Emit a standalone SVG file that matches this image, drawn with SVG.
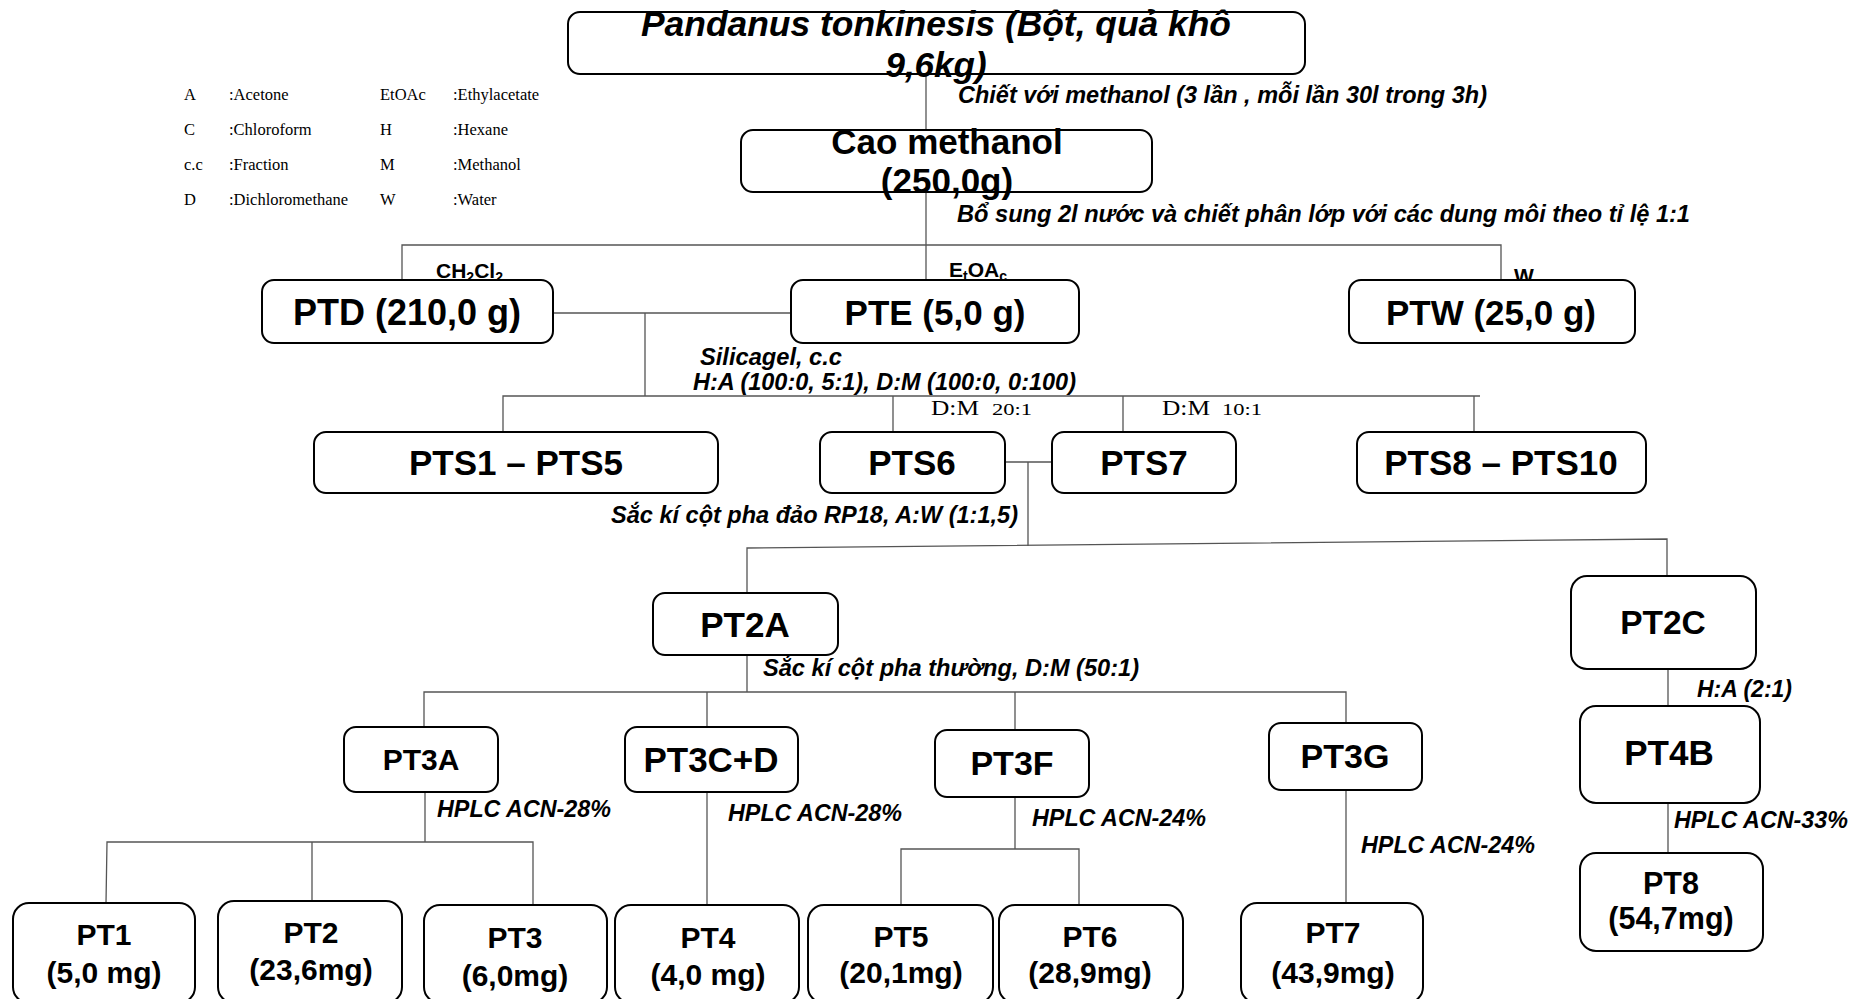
<svg xmlns="http://www.w3.org/2000/svg" width="1860" height="999" viewBox="0 0 1860 999">
<style>
.box{fill:#fff;stroke:#000;stroke-width:2}
.n{font-family:"Liberation Sans",Arial,sans-serif;font-weight:bold;fill:#000;text-anchor:middle}
.it{font-family:"Liberation Sans",Arial,sans-serif;font-weight:bold;font-style:italic;font-size:23px;fill:#000}
.s{font-family:"Liberation Sans",Arial,sans-serif;font-weight:bold;fill:#000}
.leg{font-family:"Liberation Serif","Times New Roman",serif;font-size:16.5px;fill:#000}
.dm{font-family:"Liberation Serif","Times New Roman",serif;fill:#000}
.c{fill:none;stroke:#555;stroke-width:1.3}
</style>
<rect width="1860" height="999" fill="#fff"/>
<g id="connectors">
<path class="c" d="M926 74V129"/>
<path class="c" d="M926 192V280"/>
<path class="c" d="M402 280V245H1501V280"/>
<path class="c" d="M553 313H791M645 313V396"/>
<path class="c" d="M503 432V396H1480M893 396V432M1123 396V432M1474 396V432"/>
<path class="c" d="M1005 462H1052M1028 462V546"/>
<path class="c" d="M747 593V548L1667 539V576"/>
<path class="c" d="M1668 669V706M1668 803V853"/>
<path class="c" d="M747 655V692M424 727V692H1346V723M707 692V727M1015 692V730"/>
<path class="c" d="M425 792V842M106 903L107 842H533V905M312 842V901"/>
<path class="c" d="M707 792V905"/>
<path class="c" d="M1015 797V849M901 905V849H1079V905"/>
<path class="c" d="M1346 790V903"/>
</g>
<g id="legend">
<text class="leg" x="184" y="100">A</text><text class="leg" x="229" y="100">:Acetone</text><text class="leg" x="380" y="100">EtOAc</text><text class="leg" x="453" y="100">:Ethylacetate</text>
<text class="leg" x="184" y="135">C</text><text class="leg" x="229" y="135">:Chloroform</text><text class="leg" x="380" y="135">H</text><text class="leg" x="453" y="135">:Hexane</text>
<text class="leg" x="184" y="170">c.c</text><text class="leg" x="229" y="170">:Fraction</text><text class="leg" x="380" y="170">M</text><text class="leg" x="453" y="170">:Methanol</text>
<text class="leg" x="184" y="205">D</text><text class="leg" x="229" y="205">:Dichloromethane</text><text class="leg" x="380" y="205">W</text><text class="leg" x="453" y="205">:Water</text>
</g>
<g id="labels">
<text class="it" x="958" y="103" textLength="529" lengthAdjust="spacingAndGlyphs">Chiết với methanol (3 lần , mỗi lần 30l trong 3h)</text>
<text class="it" x="957" y="222" textLength="733" lengthAdjust="spacingAndGlyphs">Bổ sung 2l nước và chiết phân lớp với các dung môi theo tỉ lệ 1:1</text>
<text class="s" x="436" y="278" font-size="21">CH<tspan dy="4" font-size="14">2</tspan><tspan dy="-4">Cl</tspan><tspan dy="4" font-size="14">2</tspan></text>
<text class="s" x="949" y="277" font-size="21">E<tspan dy="4" font-size="14">t</tspan><tspan dy="-4">OA</tspan><tspan dy="4" font-size="14">c</tspan></text>
<text class="s" x="1514" y="283" font-size="21">W</text>
<text class="it" x="700" y="365" textLength="142" lengthAdjust="spacingAndGlyphs">Silicagel,  c.c</text>
<text class="it" x="693" y="390" textLength="383" lengthAdjust="spacingAndGlyphs">H:A (100:0, 5:1), D:M (100:0, 0:100)</text>
<text class="dm" x="931" y="415" font-size="20" textLength="48" lengthAdjust="spacingAndGlyphs">D:M</text>
<text class="dm" x="992" y="415" font-size="17" textLength="40" lengthAdjust="spacingAndGlyphs">20:1</text>
<text class="dm" x="1162" y="415" font-size="20" textLength="48" lengthAdjust="spacingAndGlyphs">D:M</text>
<text class="dm" x="1222" y="415" font-size="17" textLength="40" lengthAdjust="spacingAndGlyphs">10:1</text>
<text class="it" x="611" y="523" textLength="407" lengthAdjust="spacingAndGlyphs">Sắc kí cột pha đảo RP18, A:W (1:1,5)</text>
<text class="it" x="763" y="676" textLength="376" lengthAdjust="spacingAndGlyphs">Sắc kí cột pha thường, D:M (50:1)</text>
<text class="it" x="1697" y="697" textLength="95" lengthAdjust="spacingAndGlyphs">H:A (2:1)</text>
<text class="it" x="437" y="817" textLength="174" lengthAdjust="spacingAndGlyphs">HPLC ACN-28%</text>
<text class="it" x="728" y="821" textLength="174" lengthAdjust="spacingAndGlyphs">HPLC ACN-28%</text>
<text class="it" x="1032" y="826" textLength="174" lengthAdjust="spacingAndGlyphs">HPLC ACN-24%</text>
<text class="it" x="1361" y="853" textLength="174" lengthAdjust="spacingAndGlyphs">HPLC ACN-24%</text>
<text class="it" x="1674" y="828" textLength="174" lengthAdjust="spacingAndGlyphs">HPLC ACN-33%</text>
</g>
<g id="n-top"><rect class="box" x="568" y="12" width="737" height="62" rx="12"/>
<text class="n" x="936" y="36" font-size="35" font-style="italic" textLength="590" lengthAdjust="spacingAndGlyphs">Pandanus tonkinesis (Bột, quả khô</text>
<text class="n" x="936" y="77" font-size="35" font-style="italic">9,6kg)</text></g>
<g id="n-cao"><rect class="box" x="741" y="130" width="411" height="62" rx="12"/>
<text class="n" x="947" y="154" font-size="35">Cao methanol</text>
<text class="n" x="947" y="193" font-size="35">(250,0g)</text></g>
<g id="n-ptd"><rect class="box" x="262" y="280" width="291" height="63" rx="12"/><text class="n" x="407" y="325" font-size="36">PTD (210,0 g)</text></g>
<g id="n-pte"><rect class="box" x="791" y="280" width="288" height="63" rx="12"/><text class="n" x="935" y="325" font-size="35">PTE (5,0 g)</text></g>
<g id="n-ptw"><rect class="box" x="1349" y="280" width="286" height="63" rx="12"/><text class="n" x="1491" y="325" font-size="35">PTW (25,0 g)</text></g>
<g id="n-pts1-5"><rect class="box" x="314" y="432" width="404" height="61" rx="12"/><text class="n" x="516" y="475" font-size="35">PTS1 – PTS5</text></g>
<g id="n-pts6"><rect class="box" x="820" y="432" width="185" height="61" rx="12"/><text class="n" x="912" y="475" font-size="35">PTS6</text></g>
<g id="n-pts7"><rect class="box" x="1052" y="432" width="184" height="61" rx="12"/><text class="n" x="1144" y="475" font-size="35">PTS7</text></g>
<g id="n-pts8-10"><rect class="box" x="1357" y="432" width="289" height="61" rx="12"/><text class="n" x="1501" y="475" font-size="35">PTS8 – PTS10</text></g>
<g id="n-pt2a"><rect class="box" x="653" y="593" width="185" height="62" rx="12"/><text class="n" x="745" y="637" font-size="35">PT2A</text></g>
<g id="n-pt2c"><rect class="box" x="1571" y="576" width="185" height="93" rx="16"/><text class="n" x="1663" y="634" font-size="33.5">PT2C</text></g>
<g id="n-pt3a"><rect class="box" x="344" y="727" width="154" height="65" rx="12"/><text class="n" x="421" y="770" font-size="30">PT3A</text></g>
<g id="n-pt3cd"><rect class="box" x="625" y="727" width="173" height="65" rx="12"/><text class="n" x="711" y="772" font-size="35">PT3C+D</text></g>
<g id="n-pt3f"><rect class="box" x="935" y="730" width="154" height="67" rx="12"/><text class="n" x="1012" y="775" font-size="34">PT3F</text></g>
<g id="n-pt3g"><rect class="box" x="1269" y="723" width="153" height="67" rx="12"/><text class="n" x="1345" y="768" font-size="34">PT3G</text></g>
<g id="n-pt4b"><rect class="box" x="1580" y="706" width="180" height="97" rx="16"/><text class="n" x="1669" y="765" font-size="35">PT4B</text></g>
<g id="n-pt8"><rect class="box" x="1580" y="853" width="183" height="98" rx="16"/><text class="n" x="1671" y="894" font-size="30.5">PT8</text><text class="n" x="1671" y="929" font-size="30.5">(54,7mg)</text></g>
<g id="n-pt1"><rect class="box" x="13" y="903" width="182" height="100" rx="16"/><text class="n" x="104" y="945" font-size="30">PT1</text><text class="n" x="104" y="983" font-size="30">(5,0 mg)</text></g>
<g id="n-pt2"><rect class="box" x="218" y="901" width="184" height="102" rx="16"/><text class="n" x="311" y="943" font-size="30">PT2</text><text class="n" x="311" y="980" font-size="30">(23,6mg)</text></g>
<g id="n-pt3"><rect class="box" x="424" y="905" width="183" height="98" rx="16"/><text class="n" x="515" y="948" font-size="30">PT3</text><text class="n" x="515" y="986" font-size="30">(6,0mg)</text></g>
<g id="n-pt4"><rect class="box" x="615" y="905" width="184" height="98" rx="16"/><text class="n" x="708" y="948" font-size="30">PT4</text><text class="n" x="708" y="985" font-size="30">(4,0 mg)</text></g>
<g id="n-pt5"><rect class="box" x="808" y="905" width="185" height="98" rx="16"/><text class="n" x="901" y="947" font-size="30">PT5</text><text class="n" x="901" y="983" font-size="30">(20,1mg)</text></g>
<g id="n-pt6"><rect class="box" x="999" y="905" width="184" height="98" rx="16"/><text class="n" x="1090" y="947" font-size="30">PT6</text><text class="n" x="1090" y="983" font-size="30">(28,9mg)</text></g>
<g id="n-pt7"><rect class="box" x="1241" y="903" width="182" height="100" rx="16"/><text class="n" x="1333" y="943" font-size="30">PT7</text><text class="n" x="1333" y="983" font-size="30">(43,9mg)</text></g>
</svg>
